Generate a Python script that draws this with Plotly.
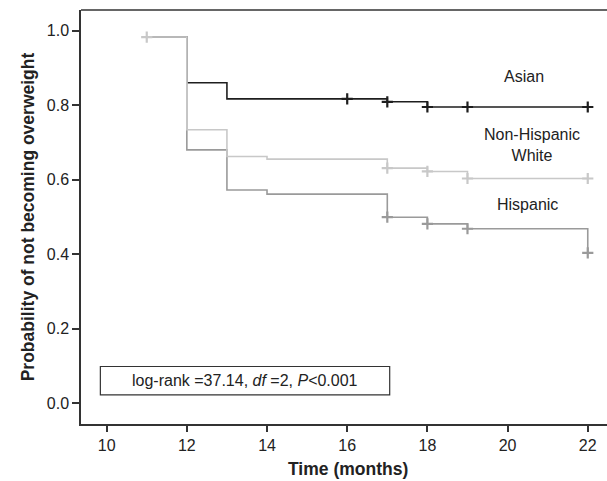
import plotly.graph_objects as go

# Step data (Kaplan-Meier)
asian_t = [11, 12, 13, 17, 18, 22]
asian_s = [0.983, 0.860, 0.817, 0.809, 0.795, 0.795]
asian_ct = [16, 17, 18, 19, 22]
asian_cs = [0.817, 0.809, 0.795, 0.795, 0.795]

nhw_t = [11, 12, 13, 14, 17, 18, 19, 22]
nhw_s = [0.983, 0.734, 0.662, 0.655, 0.631, 0.622, 0.603, 0.603]
nhw_ct = [11, 17, 18, 19, 22]
nhw_cs = [0.983, 0.631, 0.622, 0.603, 0.603]

hisp_t = [11, 12, 13, 14, 17, 18, 19, 22]
hisp_s = [0.983, 0.680, 0.572, 0.561, 0.499, 0.481, 0.468, 0.403]
hisp_ct = [17, 18, 19, 22]
hisp_cs = [0.499, 0.481, 0.468, 0.403]

x_ticks = [10, 12, 14, 16, 18, 20, 22]
y_ticks = [0.0, 0.2, 0.4, 0.6, 0.8, 1.0]

groups = [
    ("Asian", asian_t, asian_s, asian_ct, asian_cs, "#1e1e1e"),
    ("Hispanic", hisp_t, hisp_s, hisp_ct, hisp_cs, "#9a9a9a"),
    ("Non-Hispanic White", nhw_t, nhw_s, nhw_ct, nhw_cs, "#c8c8c8"),
]

fig = go.Figure()
for name, t, s, ct, cs, col in groups:
    fig.add_trace(go.Scatter(x=t, y=s, mode="lines", line=dict(color=col, width=1.6, shape="hv"),
                             showlegend=False, hoverinfo="skip"))
    fig.add_trace(go.Scatter(x=ct, y=cs, mode="markers",
                             marker=dict(symbol="cross-thin", size=8, line=dict(color=col, width=2.2)),
                             showlegend=False, hoverinfo="skip"))

font_c = "#222222"
fam = "Liberation Sans, Arial, sans-serif"

for txt, x, y in [("Asian", 20.4, 0.876), ("Non-Hispanic<br>White", 20.6, 0.692), ("Hispanic", 20.5, 0.532)]:
    fig.add_annotation(x=x, y=y, text=txt, showarrow=False, font=dict(size=16, color=font_c, family=fam))

# log-rank box
fig.add_shape(type="rect", x0=9.843, x1=17.06, y0=0.022, y1=0.098,
              line=dict(color="#333333", width=1.2), fillcolor="rgba(0,0,0,0)")
fig.add_annotation(x=13.45, y=0.061, text="log-rank =37.14, <i>df</i> =2, <i>P</i><0.001",
                   showarrow=False, font=dict(size=16, color=font_c, family=fam))

# x-axis title
fig.add_annotation(xref="paper", yref="paper", x=0.507, y=-0.109, yanchor="middle",
                   text="<b>Time (months)</b>", showarrow=False,
                   font=dict(size=17.5, color=font_c, family=fam))

# top frame line
fig.add_shape(type="line", xref="paper", yref="paper", x0=0, x1=1, y0=1, y1=1,
              line=dict(color="#333333", width=1.5))

fig.update_layout(
    width=607, height=481,
    margin=dict(l=81, r=0, t=10, b=57),
    plot_bgcolor="white", paper_bgcolor="white",
    font=dict(family=fam, color=font_c, size=16),
    xaxis=dict(range=[9.36, 22.48], tickvals=x_ticks, ticktext=[str(v) for v in x_ticks],
               showgrid=False, zeroline=False, showline=True, linecolor="#333333", linewidth=1.5,
               ticks="outside", ticklen=6, tickwidth=1.5, tickcolor="#333333",
               tickfont=dict(size=16, color=font_c)),
    yaxis=dict(range=[-0.0564, 1.0556], tickvals=y_ticks, ticktext=[f"{v:.1f}" for v in y_ticks],
               showgrid=False, zeroline=False, showline=True, linecolor="#333333", linewidth=1.5,
               ticks="outside", ticklen=7, tickwidth=1.5, tickcolor="#333333",
               tickfont=dict(size=16, color=font_c),
               title=dict(text="<b>Probability of not becoming overweight</b>", font=dict(size=17.5, color=font_c), standoff=8)),
)

fig.write_html("out.html", config={"displayModeBar": False},
               post_script="document.body.style.margin='0';document.body.style.overflow='hidden';")
